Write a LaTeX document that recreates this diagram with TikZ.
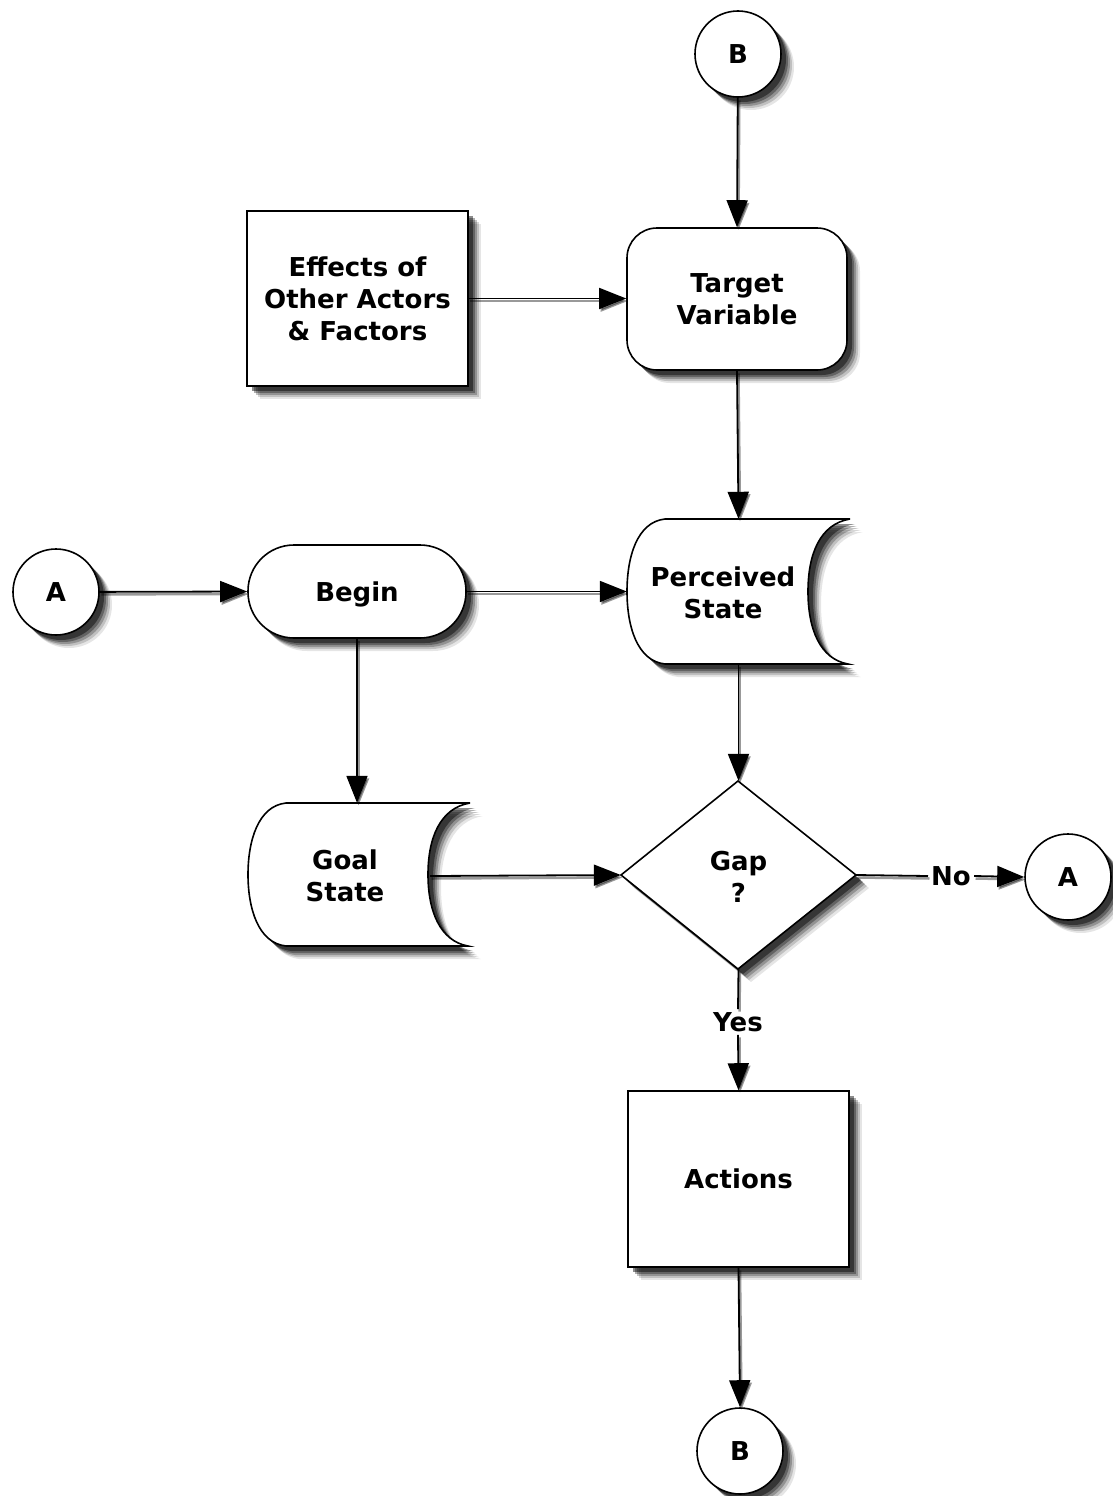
\documentclass[tikz,border=0pt]{standalone}
\usepackage{fontspec}
\setmainfont{DejaVu Sans}
\usetikzlibrary{arrows.meta,shadows}
\tikzset{
  softshadow/.style={
    general shadow={shadow xshift=13pt,shadow yshift=-13pt,fill=black,opacity=.10},
    general shadow={shadow xshift=11pt,shadow yshift=-11pt,fill=black,opacity=.16},
    general shadow={shadow xshift=9pt,shadow yshift=-9pt,fill=black,opacity=.24},
    general shadow={shadow xshift=7pt,shadow yshift=-7pt,fill=black,opacity=.32},
    general shadow={shadow xshift=5pt,shadow yshift=-5pt,fill=black,opacity=.45}},
  txt/.style={font=\fontsize{26}{32}\selectfont\bfseries, align=center, inner sep=2pt},
  shapebase/.style={txt, draw=black, line width=1.6pt, fill=white, softshadow},
  circ/.style={shapebase, circle, minimum size=86pt},
  sqbox/.style={shapebase, rectangle, minimum width=221pt, minimum height=175pt},
  rbox/.style={shapebase, rectangle, rounded corners=30pt, minimum width=220pt, minimum height=142pt},
  stadium/.style={shapebase, rectangle, rounded corners=46pt, minimum width=218pt, minimum height=93pt, text depth=0pt},
  ghost/.style={txt, rectangle, inner sep=0pt},
  outline/.style={draw=black, line width=1.6pt, fill=white, softshadow},
  conn/.style={line width=1.8pt, -{Triangle[length=27pt,width=21pt]},
    preaction={draw=black, opacity=.4, line width=2.5pt, transform canvas={shift={(1.5pt,-2.5pt)}}}},
  plain/.style={line width=1.8pt,
    preaction={draw=black, opacity=.4, line width=2.5pt, transform canvas={shift={(1.5pt,-2.5pt)}}}},
  lab/.style={txt, fill=white, inner sep=3pt}
}
\newcommand{\docpath}[4]{% L T R B
  \path[outline] ({#3},{#2}) -- ({#1+38},{#2})
    .. controls ({#1+10},{#2+3}) and ({#1},{#2+38}) .. ({#1},{(#2+#4)/2})
    .. controls ({#1},{#4-38}) and ({#1+10},{#4-3}) .. ({#1+38},{#4})
    -- ({#3-2},{#4})
    .. controls ({#3-30},{#4-5}) and ({#3-42},{#4-35}) .. ({#3-42},{(#2+#4)/2})
    .. controls ({#3-42},{#2+35}) and ({#3-30},{#2+5}) .. ({#3},{#2});}
\begin{document}
\begin{tikzpicture}[x=1pt,y=-1pt]
\useasboundingbox (0,0) rectangle (1112,1496);
\fill[white] (0,0) rectangle (1112,1496);

% document shapes and diamond drawn directly
\docpath{627}{519}{850}{664}
\docpath{248}{803}{470}{946}
\path[outline] (738,781) -- (856,875) -- (738,969) -- (621,875) -- cycle;

% nodes
\node[circ] (Btop) at (738,54) {B};
\node[rbox] (target) at (737,299) {Target\\Variable};
\node[sqbox] (effects) at (357.5,298.5) {Effects of\\Other Actors\\\& Factors};
\node[circ] (Aleft) at (56,592) {A};
\node[stadium] (begin) at (357,591.5) {Begin};
\node[ghost, minimum width=223pt, minimum height=145pt] (perc) at (738.5,591.5) {};
\node[txt] (perctxt) at (723,593) {Perceived\\State};
\node[ghost, minimum width=222pt, minimum height=143pt] (goal) at (359,874.5) {};
\node[txt] (goaltxt) at (345,876) {Goal\\State};
\coordinate (goalin) at (430,876);
\node[ghost, minimum width=235pt, minimum height=188pt] (gap) at (738.5,875) {};
\node[txt] (gaptxt) at (738.5,877) {Gap\\?};
\node[circ] (Aright) at (1068,877) {A};
\node[sqbox, minimum width=221pt, minimum height=176pt] (actions) at (738.5,1179) {Actions};
\node[circ] (Bbot) at (740,1451) {B};
\node[lab] (nolab) at (951,876) {No};
\node[lab] (yeslab) at (738,1022) {Yes};

% connectors
\draw[conn] (Btop) -- (target.north);
\draw[conn] (effects.east) -- (target.west |- effects.east);
\draw[conn] (target.south) -- (perc.north);
\draw[conn] (Aleft) -- (begin.west);
\draw[conn] (begin.east) -- (perc.west);
\draw[conn] (begin.south) -- (begin.south |- goal.north);
\draw[conn] (goalin) -- (gap.west);
\draw[conn] (perc.south) -- (gap.north);
\draw[plain] (gap.east) -- (nolab.west);
\draw[conn] (nolab.east) -- (Aright.west);
\draw[plain] (gap.south) -- (yeslab.north);
\draw[conn] (yeslab.south) -- (actions.north);
\draw[conn] (actions.south) -- (Bbot.north);
\end{tikzpicture}
\end{document}
